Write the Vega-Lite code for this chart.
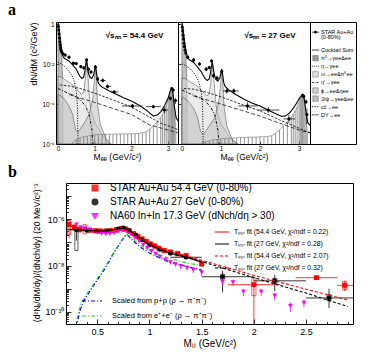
{
"$schema": "https://vega.github.io/schema/vega-lite/v6.json",
"autosize": {"type": "pad"},
"padding": {"left": 7, "top": 1, "right": 0, "bottom": 0},
"background": "white",
"bounds": "flush",
"spacing": 161,
"resolve": {"scale": {"x": "independent", "y": "independent", "color": "independent", "fill": "independent", "strokeDash": "independent", "strokeWidth": "independent", "shape": "independent"}},
"config": {
  "font": "Liberation Sans",
  "view": {"stroke": "black", "strokeWidth": 1},
  "axis": {"grid": false, "domain": false, "tickColor": "black", "labelColor": "black", "titleColor": "black", "titleFontWeight": "normal", "labelFont": "Liberation Sans", "titleFont": "Liberation Sans", "tickWidth": 0.8, "labelOverlap": false, "labelFlush": false},
  "title": {"font": "Liberation Serif", "fontWeight": "bold", "fontSize": 16, "anchor": "start", "frame": "group", "offset": 3, "color": "black"},
  "legend": {"labelFont": "Liberation Sans", "labelColor": "black"}
},
"datasets": {
  "a_data": [
    {"p":"54","m":0.01,"v":0.75,"lo":0.6,"hi":0.9},
    {"p":"54","m":0.02,"v":0.5,"lo":0.42,"hi":0.6},
    {"p":"54","m":0.03,"v":0.32,"lo":0.27,"hi":0.38},
    {"p":"54","m":0.04,"v":0.2,"lo":0.17,"hi":0.24},
    {"p":"54","m":0.05,"v":0.13,"lo":0.11,"hi":0.155},
    {"p":"54","m":0.06,"v":0.09,"lo":0.076,"hi":0.105},
    {"p":"54","m":0.07,"v":0.065,"lo":0.055,"hi":0.076},
    {"p":"54","m":0.08,"v":0.05,"lo":0.043,"hi":0.058},
    {"p":"54","m":0.1,"v":0.04,"lo":0.034,"hi":0.046},
    {"p":"54","m":0.14,"v":0.032,"lo":0.027,"hi":0.037},
    {"p":"54","m":0.2,"v":0.028,"lo":0.024,"hi":0.033},
    {"p":"54","m":0.3,"v":0.022,"lo":0.018,"hi":0.026},
    {"p":"54","m":0.42,"v":0.011,"lo":0.009,"hi":0.013},
    {"p":"54","m":0.5,"v":0.0105,"lo":0.0088,"hi":0.0125},
    {"p":"54","m":0.62,"v":0.0075,"lo":0.006,"hi":0.009},
    {"p":"54","m":0.7,"v":0.0065,"lo":0.0052,"hi":0.008},
    {"p":"54","m":0.78,"v":0.016,"lo":0.013,"hi":0.019},
    {"p":"54","m":0.83,"v":0.0055,"lo":0.0044,"hi":0.0067},
    {"p":"54","m":0.9,"v":0.004,"lo":0.0032,"hi":0.005},
    {"p":"54","m":1.02,"v":0.007,"lo":0.0058,"hi":0.0085},
    {"p":"54","m":1.08,"v":0.0018,"lo":0.0014,"hi":0.0023},
    {"p":"54","m":1.22,"v":0.0015,"lo":0.0012,"hi":0.0019,"x1":1.15,"x2":1.3},
    {"p":"54","m":1.35,"v":0.00076,"lo":0.0006,"hi":0.00095,"x1":1.3,"x2":1.45},
    {"p":"54","m":1.53,"v":0.0004,"lo":0.00032,"hi":0.0005,"x1":1.45,"x2":1.65},
    {"p":"54","m":2.03,"v":0.00008,"lo":0.00006,"hi":0.0001,"x1":1.75,"x2":2.3},
    {"p":"54","m":2.6,"v":0.000074,"lo":0.00006,"hi":0.00009,"x1":2.4,"x2":2.8},
    {"p":"54","m":2.9,"v":0.00005,"lo":0.000035,"hi":0.00007,"x1":2.8,"x2":3.0},
    {"p":"54","m":3.06,"v":0.00019,"lo":0.00015,"hi":0.00024},
    {"p":"54","m":3.1,"v":0.00059,"lo":0.0005,"hi":0.0007},
    {"p":"54","m":3.14,"v":0.0005,"lo":0.0004,"hi":0.0006},
    {"p":"54","m":3.2,"v":0.00015,"lo":0.0001,"hi":0.0002},
    {"p":"27","m":0.01,"v":0.7,"lo":0.55,"hi":0.85},
    {"p":"27","m":0.02,"v":0.45,"lo":0.37,"hi":0.54},
    {"p":"27","m":0.03,"v":0.28,"lo":0.23,"hi":0.34},
    {"p":"27","m":0.04,"v":0.18,"lo":0.15,"hi":0.22},
    {"p":"27","m":0.05,"v":0.11,"lo":0.09,"hi":0.13},
    {"p":"27","m":0.06,"v":0.075,"lo":0.062,"hi":0.09},
    {"p":"27","m":0.08,"v":0.05,"lo":0.041,"hi":0.06},
    {"p":"27","m":0.1,"v":0.035,"lo":0.029,"hi":0.042},
    {"p":"27","m":0.15,"v":0.022,"lo":0.018,"hi":0.027},
    {"p":"27","m":0.3,"v":0.016,"lo":0.013,"hi":0.02},
    {"p":"27","m":0.45,"v":0.01,"lo":0.008,"hi":0.0125},
    {"p":"27","m":0.62,"v":0.0055,"lo":0.0043,"hi":0.007},
    {"p":"27","m":0.7,"v":0.0066,"lo":0.0053,"hi":0.008},
    {"p":"27","m":0.76,"v":0.014,"lo":0.011,"hi":0.017},
    {"p":"27","m":0.81,"v":0.0026,"lo":0.002,"hi":0.0033},
    {"p":"27","m":0.9,"v":0.002,"lo":0.0015,"hi":0.0026},
    {"p":"27","m":1.02,"v":0.0042,"lo":0.0034,"hi":0.0052},
    {"p":"27","m":1.15,"v":0.00045,"lo":0.00033,"hi":0.0006,"x1":1.05,"x2":1.25},
    {"p":"27","m":1.33,"v":0.00045,"lo":0.00033,"hi":0.0006,"x1":1.25,"x2":1.45},
    {"p":"27","m":1.68,"v":0.00008,"lo":0.00005,"hi":0.00012,"x1":1.45,"x2":1.95},
    {"p":"27","m":2.21,"v":0.00005,"lo":0.000035,"hi":0.00007,"x1":1.95,"x2":2.5},
    {"p":"27","m":2.74,"v":0.000018,"lo":0.000011,"hi":0.000028,"x1":2.6,"x2":2.9},
    {"p":"27","m":3.09,"v":0.00027,"lo":0.00021,"hi":0.00034},
    {"p":"27","m":3.12,"v":0.00024,"lo":0.00019,"hi":0.0003},
    {"p":"27","m":3.18,"v":0.00013,"lo":0.0001,"hi":0.00017},
    {"p":"27","m":3.2,"v":0.00003,"lo":0.00001,"hi":0.00006}
  ],
  "a_lines": [
    {"p":"54","c":"sum","m":0,"v":1.25},{"p":"54","c":"sum","m":0.02,"v":0.8},{"p":"54","c":"sum","m":0.04,"v":0.4},{"p":"54","c":"sum","m":0.06,"v":0.18},{"p":"54","c":"sum","m":0.08,"v":0.1},{"p":"54","c":"sum","m":0.1,"v":0.055},{"p":"54","c":"sum","m":0.12,"v":0.035},{"p":"54","c":"sum","m":0.135,"v":0.025},{"p":"54","c":"sum","m":0.16,"v":0.02},{"p":"54","c":"sum","m":0.2,"v":0.018},{"p":"54","c":"sum","m":0.3,"v":0.014},{"p":"54","c":"sum","m":0.4,"v":0.009},{"p":"54","c":"sum","m":0.5,"v":0.0055},{"p":"54","c":"sum","m":0.55,"v":0.0035},{"p":"54","c":"sum","m":0.6,"v":0.0024},{"p":"54","c":"sum","m":0.65,"v":0.0019},{"p":"54","c":"sum","m":0.7,"v":0.0022},{"p":"54","c":"sum","m":0.73,"v":0.004},{"p":"54","c":"sum","m":0.76,"v":0.011},{"p":"54","c":"sum","m":0.78,"v":0.015},{"p":"54","c":"sum","m":0.8,"v":0.009},{"p":"54","c":"sum","m":0.83,"v":0.0035},{"p":"54","c":"sum","m":0.87,"v":0.0022},{"p":"54","c":"sum","m":0.92,"v":0.0019},{"p":"54","c":"sum","m":0.97,"v":0.0028},{"p":"54","c":"sum","m":1.0,"v":0.0055},{"p":"54","c":"sum","m":1.02,"v":0.0085},{"p":"54","c":"sum","m":1.04,"v":0.005},{"p":"54","c":"sum","m":1.07,"v":0.0018},{"p":"54","c":"sum","m":1.1,"v":0.0011},{"p":"54","c":"sum","m":1.2,"v":0.0007},{"p":"54","c":"sum","m":1.4,"v":0.00045},{"p":"54","c":"sum","m":1.6,"v":0.0003},{"p":"54","c":"sum","m":1.8,"v":0.0002},{"p":"54","c":"sum","m":2.0,"v":0.00014},{"p":"54","c":"sum","m":2.2,"v":0.00009},{"p":"54","c":"sum","m":2.4,"v":0.00005},{"p":"54","c":"sum","m":2.6,"v":0.000025},{"p":"54","c":"sum","m":2.7,"v":0.000028},{"p":"54","c":"sum","m":2.8,"v":0.00004},{"p":"54","c":"sum","m":2.9,"v":0.00008},{"p":"54","c":"sum","m":3.0,"v":0.0002},{"p":"54","c":"sum","m":3.05,"v":0.0004},{"p":"54","c":"sum","m":3.1,"v":0.00062},{"p":"54","c":"sum","m":3.13,"v":0.0004},{"p":"54","c":"sum","m":3.17,"v":0.00008},{"p":"54","c":"sum","m":3.22,"v":0.00002},{"p":"54","c":"sum","m":3.3,"v":0.000012},
    {"p":"54","c":"eta","m":0,"v":0.012},{"p":"54","c":"eta","m":0.1,"v":0.01},{"p":"54","c":"eta","m":0.2,"v":0.007},{"p":"54","c":"eta","m":0.3,"v":0.0045},{"p":"54","c":"eta","m":0.4,"v":0.0022},{"p":"54","c":"eta","m":0.45,"v":0.0012},{"p":"54","c":"eta","m":0.5,"v":0.0004},{"p":"54","c":"eta","m":0.53,"v":0.00008},{"p":"54","c":"eta","m":0.545,"v":0.000001},
    {"p":"54","c":"etap","m":0,"v":0.0006},{"p":"54","c":"etap","m":0.2,"v":0.0004},{"p":"54","c":"etap","m":0.4,"v":0.00028},{"p":"54","c":"etap","m":0.6,"v":0.00017},{"p":"54","c":"etap","m":0.75,"v":0.00008},{"p":"54","c":"etap","m":0.85,"v":0.00003},{"p":"54","c":"etap","m":0.92,"v":0.000006},{"p":"54","c":"etap","m":0.955,"v":0.000001},
    {"p":"54","c":"cc","m":0.05,"v":0.0009},{"p":"54","c":"cc","m":0.3,"v":0.0008},{"p":"54","c":"cc","m":0.6,"v":0.0006},{"p":"54","c":"cc","m":1.0,"v":0.00035},{"p":"54","c":"cc","m":1.5,"v":0.00016},{"p":"54","c":"cc","m":2.0,"v":0.00007},{"p":"54","c":"cc","m":2.5,"v":0.000022},{"p":"54","c":"cc","m":2.8,"v":0.000011},{"p":"54","c":"cc","m":3.1,"v":0.000007},{"p":"54","c":"cc","m":3.3,"v":0.000005},
    {"p":"54","c":"dy","m":0.3,"v":0.0003},{"p":"54","c":"dy","m":0.6,"v":0.0002},{"p":"54","c":"dy","m":1.0,"v":0.00012},{"p":"54","c":"dy","m":1.5,"v":0.00006},{"p":"54","c":"dy","m":2.0,"v":0.00003},{"p":"54","c":"dy","m":2.5,"v":0.000009},{"p":"54","c":"dy","m":3.0,"v":0.000005},{"p":"54","c":"dy","m":3.3,"v":0.0000035},
    {"p":"27","c":"sum","m":0,"v":1.2},{"p":"27","c":"sum","m":0.02,"v":0.75},{"p":"27","c":"sum","m":0.04,"v":0.37},{"p":"27","c":"sum","m":0.06,"v":0.17},{"p":"27","c":"sum","m":0.08,"v":0.09},{"p":"27","c":"sum","m":0.1,"v":0.05},{"p":"27","c":"sum","m":0.12,"v":0.032},{"p":"27","c":"sum","m":0.135,"v":0.022},{"p":"27","c":"sum","m":0.16,"v":0.018},{"p":"27","c":"sum","m":0.2,"v":0.016},{"p":"27","c":"sum","m":0.3,"v":0.012},{"p":"27","c":"sum","m":0.4,"v":0.007},{"p":"27","c":"sum","m":0.5,"v":0.004},{"p":"27","c":"sum","m":0.55,"v":0.0026},{"p":"27","c":"sum","m":0.6,"v":0.0018},{"p":"27","c":"sum","m":0.65,"v":0.0015},{"p":"27","c":"sum","m":0.7,"v":0.0018},{"p":"27","c":"sum","m":0.73,"v":0.0035},{"p":"27","c":"sum","m":0.76,"v":0.009},{"p":"27","c":"sum","m":0.78,"v":0.012},{"p":"27","c":"sum","m":0.8,"v":0.007},{"p":"27","c":"sum","m":0.83,"v":0.0028},{"p":"27","c":"sum","m":0.87,"v":0.0017},{"p":"27","c":"sum","m":0.92,"v":0.0014},{"p":"27","c":"sum","m":0.97,"v":0.002},{"p":"27","c":"sum","m":1.0,"v":0.0035},{"p":"27","c":"sum","m":1.02,"v":0.0055},{"p":"27","c":"sum","m":1.04,"v":0.0033},{"p":"27","c":"sum","m":1.07,"v":0.0012},{"p":"27","c":"sum","m":1.1,"v":0.0008},{"p":"27","c":"sum","m":1.2,"v":0.0005},{"p":"27","c":"sum","m":1.4,"v":0.00028},{"p":"27","c":"sum","m":1.6,"v":0.00017},{"p":"27","c":"sum","m":1.8,"v":0.00011},{"p":"27","c":"sum","m":2.0,"v":0.00008},{"p":"27","c":"sum","m":2.2,"v":0.00005},{"p":"27","c":"sum","m":2.4,"v":0.000033},{"p":"27","c":"sum","m":2.55,"v":0.000024},{"p":"27","c":"sum","m":2.65,"v":0.000025},{"p":"27","c":"sum","m":2.75,"v":0.000035},{"p":"27","c":"sum","m":2.85,"v":0.00006},{"p":"27","c":"sum","m":2.95,"v":0.00012},{"p":"27","c":"sum","m":3.0,"v":0.00018},{"p":"27","c":"sum","m":3.05,"v":0.00025},{"p":"27","c":"sum","m":3.1,"v":0.00028},{"p":"27","c":"sum","m":3.13,"v":0.0002},{"p":"27","c":"sum","m":3.17,"v":0.00005},{"p":"27","c":"sum","m":3.22,"v":0.000012},{"p":"27","c":"sum","m":3.3,"v":0.000008},
    {"p":"27","c":"eta","m":0,"v":0.01},{"p":"27","c":"eta","m":0.1,"v":0.0085},{"p":"27","c":"eta","m":0.2,"v":0.006},{"p":"27","c":"eta","m":0.3,"v":0.0038},{"p":"27","c":"eta","m":0.4,"v":0.0018},{"p":"27","c":"eta","m":0.45,"v":0.001},{"p":"27","c":"eta","m":0.5,"v":0.00033},{"p":"27","c":"eta","m":0.53,"v":0.00007},{"p":"27","c":"eta","m":0.545,"v":0.000001},
    {"p":"27","c":"etap","m":0,"v":0.0005},{"p":"27","c":"etap","m":0.2,"v":0.00033},{"p":"27","c":"etap","m":0.4,"v":0.00023},{"p":"27","c":"etap","m":0.6,"v":0.00014},{"p":"27","c":"etap","m":0.75,"v":0.000065},{"p":"27","c":"etap","m":0.85,"v":0.000025},{"p":"27","c":"etap","m":0.92,"v":0.000005},{"p":"27","c":"etap","m":0.955,"v":0.000001},
    {"p":"27","c":"cc","m":0.05,"v":0.0006},{"p":"27","c":"cc","m":0.3,"v":0.00055},{"p":"27","c":"cc","m":0.6,"v":0.0004},{"p":"27","c":"cc","m":1.0,"v":0.00023},{"p":"27","c":"cc","m":1.5,"v":0.0001},{"p":"27","c":"cc","m":2.0,"v":0.000045},{"p":"27","c":"cc","m":2.5,"v":0.000016},{"p":"27","c":"cc","m":2.8,"v":0.000009},{"p":"27","c":"cc","m":3.1,"v":0.000005},{"p":"27","c":"cc","m":3.3,"v":0.0000035},
    {"p":"27","c":"dy","m":0.3,"v":0.00025},{"p":"27","c":"dy","m":0.6,"v":0.00017},{"p":"27","c":"dy","m":1.0,"v":0.0001},{"p":"27","c":"dy","m":1.5,"v":0.00005},{"p":"27","c":"dy","m":2.0,"v":0.000025},{"p":"27","c":"dy","m":2.5,"v":0.000011},{"p":"27","c":"dy","m":3.0,"v":0.000005},{"p":"27","c":"dy","m":3.3,"v":0.0000035}
  ],
  "a_areas": [
    {"p":"54","c":"pi0","m":0,"v":1.0},{"p":"54","c":"pi0","m":0.02,"v":0.6},{"p":"54","c":"pi0","m":0.04,"v":0.3},{"p":"54","c":"pi0","m":0.06,"v":0.13},{"p":"54","c":"pi0","m":0.08,"v":0.06},{"p":"54","c":"pi0","m":0.1,"v":0.025},{"p":"54","c":"pi0","m":0.115,"v":0.008},{"p":"54","c":"pi0","m":0.125,"v":0.002},{"p":"54","c":"pi0","m":0.132,"v":0.0002},{"p":"54","c":"pi0","m":0.135,"v":0.000001},
    {"p":"54","c":"omega","m":0,"v":0.0025},{"p":"54","c":"omega","m":0.1,"v":0.0022},{"p":"54","c":"omega","m":0.2,"v":0.0016},{"p":"54","c":"omega","m":0.3,"v":0.0012},{"p":"54","c":"omega","m":0.4,"v":0.0009},{"p":"54","c":"omega","m":0.5,"v":0.0006},{"p":"54","c":"omega","m":0.58,"v":0.0004},{"p":"54","c":"omega","m":0.64,"v":0.0003},{"p":"54","c":"omega","m":0.7,"v":0.0004},{"p":"54","c":"omega","m":0.74,"v":0.0015},{"p":"54","c":"omega","m":0.78,"v":0.012},{"p":"54","c":"omega","m":0.82,"v":0.002},{"p":"54","c":"omega","m":0.86,"v":0.0002},{"p":"54","c":"omega","m":0.9,"v":0.00005},{"p":"54","c":"omega","m":1.0,"v":0.000012},{"p":"54","c":"omega","m":1.2,"v":0.000003},{"p":"54","c":"omega","m":1.4,"v":0.000001},
    {"p":"54","c":"phi","m":0,"v":0.0003},{"p":"54","c":"phi","m":0.1,"v":0.00025},{"p":"54","c":"phi","m":0.2,"v":0.00015},{"p":"54","c":"phi","m":0.3,"v":0.00008},{"p":"54","c":"phi","m":0.4,"v":0.00003},{"p":"54","c":"phi","m":0.48,"v":0.000005},{"p":"54","c":"phi","m":0.55,"v":0.000004},{"p":"54","c":"phi","m":0.7,"v":0.00001},{"p":"54","c":"phi","m":0.85,"v":0.00003},{"p":"54","c":"phi","m":0.95,"v":0.0002},{"p":"54","c":"phi","m":0.99,"v":0.0015},{"p":"54","c":"phi","m":1.02,"v":0.0065},{"p":"54","c":"phi","m":1.05,"v":0.0015},{"p":"54","c":"phi","m":1.08,"v":0.0001},{"p":"54","c":"phi","m":1.15,"v":0.00001},{"p":"54","c":"phi","m":1.3,"v":0.000002},{"p":"54","c":"phi","m":1.45,"v":0.000001},
    {"p":"27","c":"pi0","m":0,"v":0.95},{"p":"27","c":"pi0","m":0.02,"v":0.57},{"p":"27","c":"pi0","m":0.04,"v":0.28},{"p":"27","c":"pi0","m":0.06,"v":0.12},{"p":"27","c":"pi0","m":0.08,"v":0.055},{"p":"27","c":"pi0","m":0.1,"v":0.023},{"p":"27","c":"pi0","m":0.115,"v":0.0075},{"p":"27","c":"pi0","m":0.125,"v":0.0019},{"p":"27","c":"pi0","m":0.132,"v":0.0002},{"p":"27","c":"pi0","m":0.135,"v":0.000001},
    {"p":"27","c":"omega","m":0,"v":0.002},{"p":"27","c":"omega","m":0.1,"v":0.0018},{"p":"27","c":"omega","m":0.2,"v":0.0013},{"p":"27","c":"omega","m":0.3,"v":0.001},{"p":"27","c":"omega","m":0.4,"v":0.00075},{"p":"27","c":"omega","m":0.5,"v":0.0005},{"p":"27","c":"omega","m":0.58,"v":0.00033},{"p":"27","c":"omega","m":0.64,"v":0.00025},{"p":"27","c":"omega","m":0.7,"v":0.00033},{"p":"27","c":"omega","m":0.74,"v":0.0012},{"p":"27","c":"omega","m":0.78,"v":0.01},{"p":"27","c":"omega","m":0.82,"v":0.0016},{"p":"27","c":"omega","m":0.86,"v":0.00016},{"p":"27","c":"omega","m":0.9,"v":0.00004},{"p":"27","c":"omega","m":1.0,"v":0.00001},{"p":"27","c":"omega","m":1.2,"v":0.0000025},{"p":"27","c":"omega","m":1.4,"v":0.000001},
    {"p":"27","c":"phi","m":0,"v":0.00022},{"p":"27","c":"phi","m":0.1,"v":0.00018},{"p":"27","c":"phi","m":0.2,"v":0.00011},{"p":"27","c":"phi","m":0.3,"v":0.00006},{"p":"27","c":"phi","m":0.4,"v":0.000022},{"p":"27","c":"phi","m":0.48,"v":0.000004},{"p":"27","c":"phi","m":0.55,"v":0.000003},{"p":"27","c":"phi","m":0.7,"v":0.000008},{"p":"27","c":"phi","m":0.85,"v":0.000022},{"p":"27","c":"phi","m":0.95,"v":0.00015},{"p":"27","c":"phi","m":0.99,"v":0.001},{"p":"27","c":"phi","m":1.02,"v":0.0045},{"p":"27","c":"phi","m":1.05,"v":0.001},{"p":"27","c":"phi","m":1.08,"v":0.00008},{"p":"27","c":"phi","m":1.15,"v":0.000008},{"p":"27","c":"phi","m":1.3,"v":0.0000015},{"p":"27","c":"phi","m":1.45,"v":0.000001}
  ],
  "a_jpsi": [
    {"p":"54","m":0.4,"v":0.0000012},{"p":"54","m":0.5,"v":0.0000016},{"p":"54","m":0.6,"v":0.000002},{"p":"54","m":0.7,"v":0.0000023},{"p":"54","m":0.8,"v":0.0000025},{"p":"54","m":0.9,"v":0.0000027},{"p":"54","m":1.0,"v":0.0000029},{"p":"54","m":1.1,"v":0.000003},{"p":"54","m":1.2,"v":0.000003},{"p":"54","m":1.3,"v":0.0000031},{"p":"54","m":1.4,"v":0.0000031},{"p":"54","m":1.5,"v":0.0000031},{"p":"54","m":1.6,"v":0.0000032},{"p":"54","m":1.7,"v":0.0000032},{"p":"54","m":1.8,"v":0.0000032},{"p":"54","m":1.9,"v":0.0000032},{"p":"54","m":2.0,"v":0.0000033},{"p":"54","m":2.1,"v":0.0000033},{"p":"54","m":2.2,"v":0.0000034},{"p":"54","m":2.3,"v":0.0000036},{"p":"54","m":2.4,"v":0.000004},{"p":"54","m":2.5,"v":0.0000055},{"p":"54","m":2.6,"v":0.000008},{"p":"54","m":2.7,"v":0.000013},{"p":"54","m":2.8,"v":0.000022},{"p":"54","m":2.85,"v":0.00003},{"p":"54","m":2.9,"v":0.00005},{"p":"54","m":2.95,"v":0.00008},{"p":"54","m":3.0,"v":0.00016},{"p":"54","m":3.03,"v":0.00025},{"p":"54","m":3.06,"v":0.0004},{"p":"54","m":3.09,"v":0.0006},{"p":"54","m":3.12,"v":0.0005},{"p":"54","m":3.15,"v":0.00015},{"p":"54","m":3.18,"v":0.00003},{"p":"54","m":3.21,"v":0.000005},
    {"p":"27","m":0.5,"v":0.0000011},{"p":"27","m":0.6,"v":0.0000013},{"p":"27","m":0.7,"v":0.0000014},{"p":"27","m":0.8,"v":0.0000016},{"p":"27","m":0.9,"v":0.0000017},{"p":"27","m":1.0,"v":0.0000018},{"p":"27","m":1.1,"v":0.0000019},{"p":"27","m":1.2,"v":0.0000019},{"p":"27","m":1.3,"v":0.000002},{"p":"27","m":1.4,"v":0.000002},{"p":"27","m":1.5,"v":0.0000021},{"p":"27","m":1.6,"v":0.0000021},{"p":"27","m":1.7,"v":0.0000022},{"p":"27","m":1.8,"v":0.0000022},{"p":"27","m":1.9,"v":0.0000022},{"p":"27","m":2.0,"v":0.0000023},{"p":"27","m":2.1,"v":0.0000023},{"p":"27","m":2.2,"v":0.0000024},{"p":"27","m":2.3,"v":0.0000026},{"p":"27","m":2.4,"v":0.0000035},{"p":"27","m":2.5,"v":0.000005},{"p":"27","m":2.6,"v":0.000008},{"p":"27","m":2.7,"v":0.000013},{"p":"27","m":2.8,"v":0.000022},{"p":"27","m":2.85,"v":0.00003},{"p":"27","m":2.9,"v":0.000045},{"p":"27","m":2.95,"v":0.00007},{"p":"27","m":3.0,"v":0.00012},{"p":"27","m":3.03,"v":0.00018},{"p":"27","m":3.06,"v":0.00024},{"p":"27","m":3.09,"v":0.00028},{"p":"27","m":3.12,"v":0.00024},{"p":"27","m":3.15,"v":0.00009},{"p":"27","m":3.18,"v":0.00002},{"p":"27","m":3.21,"v":0.000004}
  ],
  "a_leg": [
    {"r":-0.2,"t":"STAR Au+Au","k":"star"},
    {"r":0.45,"t":"\u00a0\u00a0\u00a0(0-80%)","k":"none"},
    {"r":2,"t":"Cocktail Sum","k":"sum"},
    {"r":3,"t":"π⁰→γee&ee","k":"pi0"},
    {"r":4,"t":"η→γee","k":"eta"},
    {"r":5,"t":"ω→ee&π⁰ee","k":"omega"},
    {"r":6,"t":"η′→γee","k":"etap"},
    {"r":7,"t":"ϕ→ee&ηee","k":"phi"},
    {"r":8,"t":"J/ψ→γee&ee","k":"jpsi"},
    {"r":9,"t":"cc̄→ee","k":"cc"},
    {"r":10,"t":"DY→ee","k":"dy"}
  ],
  "b_data": [
    {"s":"STAR Au+Au 54.4 GeV (0-80%)","m":0.23,"v":6e-7,"lo":1.5e-7,"hi":1e-6,"b1":2.2e-7,"b2":9e-7,"bx1":0.215,"bx2":0.245},
    {"s":"STAR Au+Au 54.4 GeV (0-80%)","m":0.28,"v":4.5e-7,"lo":3.6e-7,"hi":5.6e-7,"b1":3.4e-7,"b2":5.8e-7,"bx1":0.265,"bx2":0.295},
    {"s":"STAR Au+Au 54.4 GeV (0-80%)","m":0.33,"v":3.6e-7,"lo":3e-7,"hi":4.3e-7,"b1":2.8e-7,"b2":4.6e-7,"bx1":0.315,"bx2":0.345},
    {"s":"STAR Au+Au 54.4 GeV (0-80%)","m":0.38,"v":3.8e-7,"lo":3.1e-7,"hi":4.6e-7,"b1":2.3e-7,"b2":6e-7,"bx1":0.365,"bx2":0.395},
    {"s":"STAR Au+Au 54.4 GeV (0-80%)","m":0.43,"v":3.4e-7,"lo":2.9e-7,"hi":4e-7,"b1":2.7e-7,"b2":4.3e-7,"bx1":0.415,"bx2":0.445},
    {"s":"STAR Au+Au 54.4 GeV (0-80%)","m":0.48,"v":3.2e-7,"lo":2.8e-7,"hi":3.7e-7,"b1":2.6e-7,"b2":4e-7,"bx1":0.465,"bx2":0.495},
    {"s":"STAR Au+Au 54.4 GeV (0-80%)","m":0.53,"v":3.1e-7,"lo":2.7e-7,"hi":3.5e-7,"b1":2.5e-7,"b2":3.9e-7,"bx1":0.515,"bx2":0.545},
    {"s":"STAR Au+Au 54.4 GeV (0-80%)","m":0.58,"v":3.1e-7,"lo":2.7e-7,"hi":3.5e-7,"b1":2.5e-7,"b2":3.9e-7,"bx1":0.565,"bx2":0.595},
    {"s":"STAR Au+Au 54.4 GeV (0-80%)","m":0.63,"v":3.2e-7,"lo":2.8e-7,"hi":3.6e-7,"b1":2.6e-7,"b2":4e-7,"bx1":0.615,"bx2":0.645},
    {"s":"STAR Au+Au 54.4 GeV (0-80%)","m":0.68,"v":3.5e-7,"lo":3.1e-7,"hi":3.9e-7,"b1":2.8e-7,"b2":4.4e-7,"bx1":0.665,"bx2":0.695},
    {"s":"STAR Au+Au 54.4 GeV (0-80%)","m":0.73,"v":4e-7,"lo":3.6e-7,"hi":4.4e-7,"b1":3.2e-7,"b2":5e-7,"bx1":0.715,"bx2":0.745},
    {"s":"STAR Au+Au 54.4 GeV (0-80%)","m":0.77,"v":3.8e-7,"lo":3.4e-7,"hi":4.2e-7,"b1":3e-7,"b2":4.8e-7,"bx1":0.755,"bx2":0.785},
    {"s":"STAR Au+Au 54.4 GeV (0-80%)","m":0.81,"v":3.1e-7,"lo":2.8e-7,"hi":3.4e-7,"b1":2.5e-7,"b2":3.9e-7,"bx1":0.795,"bx2":0.825},
    {"s":"STAR Au+Au 54.4 GeV (0-80%)","m":0.85,"v":2.4e-7,"lo":2.2e-7,"hi":2.6e-7,"b1":1.9e-7,"b2":3e-7,"bx1":0.835,"bx2":0.865},
    {"s":"STAR Au+Au 54.4 GeV (0-80%)","m":0.89,"v":1.8e-7,"lo":1.6e-7,"hi":2e-7,"b1":1.45e-7,"b2":2.25e-7,"bx1":0.875,"bx2":0.905},
    {"s":"STAR Au+Au 54.4 GeV (0-80%)","m":0.93,"v":1.4e-7,"lo":1.25e-7,"hi":1.55e-7,"b1":1.1e-7,"b2":1.75e-7,"bx1":0.915,"bx2":0.945},
    {"s":"STAR Au+Au 54.4 GeV (0-80%)","m":0.97,"v":1.1e-7,"lo":9.8e-8,"hi":1.22e-7,"b1":8.8e-8,"b2":1.38e-7,"bx1":0.955,"bx2":0.985},
    {"s":"STAR Au+Au 54.4 GeV (0-80%)","m":1.01,"v":8.5e-8,"lo":7.5e-8,"hi":9.5e-8,"b1":6.8e-8,"b2":1.06e-7,"bx1":0.995,"bx2":1.025},
    {"s":"STAR Au+Au 54.4 GeV (0-80%)","m":1.05,"v":7e-8,"lo":6.1e-8,"hi":7.9e-8,"b1":5.6e-8,"b2":8.8e-8,"bx1":1.035,"bx2":1.065},
    {"s":"STAR Au+Au 54.4 GeV (0-80%)","m":1.09,"v":5.6e-8,"lo":4.8e-8,"hi":6.4e-8,"b1":4.5e-8,"b2":7e-8,"bx1":1.075,"bx2":1.105},
    {"s":"STAR Au+Au 54.4 GeV (0-80%)","m":1.14,"v":4.5e-8,"lo":3.8e-8,"hi":5.2e-8,"b1":3.6e-8,"b2":5.6e-8,"bx1":1.12,"bx2":1.16},
    {"s":"STAR Au+Au 54.4 GeV (0-80%)","m":1.2,"v":3.8e-8,"lo":3.2e-8,"hi":4.4e-8,"b1":3e-8,"b2":4.8e-8,"bx1":1.18,"bx2":1.22},
    {"s":"STAR Au+Au 54.4 GeV (0-80%)","m":1.27,"v":3.3e-8,"lo":2.7e-8,"hi":3.9e-8,"b1":2.6e-8,"b2":4.1e-8,"bx1":1.25,"bx2":1.29},
    {"s":"STAR Au+Au 54.4 GeV (0-80%)","m":1.35,"v":2.7e-8,"lo":2.2e-8,"hi":3.2e-8,"b1":2.1e-8,"b2":3.4e-8,"bx1":1.33,"bx2":1.37},
    {"s":"STAR Au+Au 54.4 GeV (0-80%)","m":1.5,"v":1.2e-8,"lo":9e-9,"hi":1.6e-8,"b1":9.5e-9,"b2":1.5e-8,"bx1":1.48,"bx2":1.52},
    {"s":"STAR Au+Au 54.4 GeV (0-80%)","m":2.0,"v":1.5e-9,"lo":2e-11,"hi":2.8e-9,"x1":1.75,"x2":2.25,"b1":5e-10,"b2":3e-9,"bx1":1.98,"bx2":2.02},
    {"s":"STAR Au+Au 54.4 GeV (0-80%)","m":2.6,"v":3e-9,"lo":2.4e-9,"hi":3.7e-9,"x1":2.4,"x2":2.8,"b1":2.5e-9,"b2":3.6e-9,"bx1":2.58,"bx2":2.62},
    {"s":"STAR Au+Au 54.4 GeV (0-80%)","m":2.87,"v":1.4e-9,"lo":8e-10,"hi":2.2e-9,"x1":2.8,"x2":2.95,"b1":9e-10,"b2":2.1e-9,"bx1":2.85,"bx2":2.89},
    {"s":"STAR Au+Au 27 GeV (0-80%)","m":0.3,"v":3.5e-7,"lo":1.2e-7,"hi":5e-7,"b1":4.5e-8,"b2":4.5e-7,"bx1":0.285,"bx2":0.315},
    {"s":"STAR Au+Au 27 GeV (0-80%)","m":0.4,"v":3.3e-7,"lo":2.8e-7,"hi":3.8e-7},
    {"s":"STAR Au+Au 27 GeV (0-80%)","m":0.5,"v":3.1e-7,"lo":2.7e-7,"hi":3.5e-7},
    {"s":"STAR Au+Au 27 GeV (0-80%)","m":0.6,"v":3.2e-7,"lo":2.8e-7,"hi":3.6e-7},
    {"s":"STAR Au+Au 27 GeV (0-80%)","m":0.7,"v":3.9e-7,"lo":3.5e-7,"hi":4.3e-7},
    {"s":"STAR Au+Au 27 GeV (0-80%)","m":0.75,"v":4.3e-7,"lo":3.9e-7,"hi":4.7e-7},
    {"s":"STAR Au+Au 27 GeV (0-80%)","m":0.8,"v":3.4e-7,"lo":3.1e-7,"hi":3.7e-7},
    {"s":"STAR Au+Au 27 GeV (0-80%)","m":0.87,"v":2.1e-7,"lo":1.9e-7,"hi":2.3e-7},
    {"s":"STAR Au+Au 27 GeV (0-80%)","m":0.93,"v":1.3e-7,"lo":1.15e-7,"hi":1.45e-7},
    {"s":"STAR Au+Au 27 GeV (0-80%)","m":1.0,"v":8e-8,"lo":7e-8,"hi":9e-8},
    {"s":"STAR Au+Au 27 GeV (0-80%)","m":1.1,"v":5e-8,"lo":4.3e-8,"hi":5.7e-8},
    {"s":"STAR Au+Au 27 GeV (0-80%)","m":1.2,"v":3.4e-8,"lo":2.9e-8,"hi":3.9e-8},
    {"s":"STAR Au+Au 27 GeV (0-80%)","m":1.35,"v":2.3e-8,"lo":1.9e-8,"hi":2.7e-8,"x1":1.2,"x2":1.5},
    {"s":"STAR Au+Au 27 GeV (0-80%)","m":1.7,"v":3.3e-9,"lo":7e-10,"hi":6e-9,"x1":1.5,"x2":2.0,"b1":2.6e-9,"b2":4.2e-9,"bx1":1.68,"bx2":1.72},
    {"s":"STAR Au+Au 27 GeV (0-80%)","m":2.2,"v":2.2e-9,"lo":8e-10,"hi":4e-9,"x1":2.0,"x2":2.5,"b1":1.7e-9,"b2":2.8e-9,"bx1":2.18,"bx2":2.22},
    {"s":"STAR Au+Au 27 GeV (0-80%)","m":2.72,"v":4e-10,"lo":1.5e-10,"hi":1e-9,"x1":2.5,"x2":2.95,"b1":3e-10,"b2":5.5e-10,"bx1":2.7,"bx2":2.74},
    {"s":"NA60 In+In 17.3 GeV (dNch/dη > 30)","m":0.3,"v":6e-7,"lo":5e-7,"hi":7e-7},
    {"s":"NA60 In+In 17.3 GeV (dNch/dη > 30)","m":0.34,"v":4.5e-7,"lo":3.8e-7,"hi":5.2e-7},
    {"s":"NA60 In+In 17.3 GeV (dNch/dη > 30)","m":0.38,"v":4e-7,"lo":3.4e-7,"hi":4.6e-7},
    {"s":"NA60 In+In 17.3 GeV (dNch/dη > 30)","m":0.42,"v":3.4e-7,"lo":2.9e-7,"hi":3.9e-7},
    {"s":"NA60 In+In 17.3 GeV (dNch/dη > 30)","m":0.46,"v":3e-7,"lo":2.6e-7,"hi":3.5e-7},
    {"s":"NA60 In+In 17.3 GeV (dNch/dη > 30)","m":0.5,"v":2.7e-7,"lo":2.3e-7,"hi":3.1e-7},
    {"s":"NA60 In+In 17.3 GeV (dNch/dη > 30)","m":0.54,"v":2.4e-7,"lo":2.05e-7,"hi":2.75e-7},
    {"s":"NA60 In+In 17.3 GeV (dNch/dη > 30)","m":0.58,"v":2.3e-7,"lo":1.95e-7,"hi":2.65e-7},
    {"s":"NA60 In+In 17.3 GeV (dNch/dη > 30)","m":0.62,"v":2.4e-7,"lo":2.05e-7,"hi":2.75e-7},
    {"s":"NA60 In+In 17.3 GeV (dNch/dη > 30)","m":0.66,"v":2.6e-7,"lo":2.2e-7,"hi":3e-7},
    {"s":"NA60 In+In 17.3 GeV (dNch/dη > 30)","m":0.7,"v":3e-7,"lo":2.6e-7,"hi":3.4e-7},
    {"s":"NA60 In+In 17.3 GeV (dNch/dη > 30)","m":0.74,"v":3.3e-7,"lo":2.8e-7,"hi":3.8e-7},
    {"s":"NA60 In+In 17.3 GeV (dNch/dη > 30)","m":0.78,"v":3.1e-7,"lo":2.6e-7,"hi":3.6e-7},
    {"s":"NA60 In+In 17.3 GeV (dNch/dη > 30)","m":0.82,"v":2.3e-7,"lo":1.95e-7,"hi":2.65e-7},
    {"s":"NA60 In+In 17.3 GeV (dNch/dη > 30)","m":0.86,"v":1.6e-7,"lo":1.35e-7,"hi":1.85e-7},
    {"s":"NA60 In+In 17.3 GeV (dNch/dη > 30)","m":0.9,"v":1.15e-7,"lo":9.8e-8,"hi":1.32e-7},
    {"s":"NA60 In+In 17.3 GeV (dNch/dη > 30)","m":0.94,"v":8e-8,"lo":6.8e-8,"hi":9.2e-8},
    {"s":"NA60 In+In 17.3 GeV (dNch/dη > 30)","m":0.98,"v":5.8e-8,"lo":4.9e-8,"hi":6.7e-8},
    {"s":"NA60 In+In 17.3 GeV (dNch/dη > 30)","m":1.02,"v":4.3e-8,"lo":3.6e-8,"hi":5e-8},
    {"s":"NA60 In+In 17.3 GeV (dNch/dη > 30)","m":1.06,"v":3.2e-8,"lo":2.7e-8,"hi":3.7e-8},
    {"s":"NA60 In+In 17.3 GeV (dNch/dη > 30)","m":1.1,"v":2.4e-8,"lo":2e-8,"hi":2.8e-8},
    {"s":"NA60 In+In 17.3 GeV (dNch/dη > 30)","m":1.15,"v":1.8e-8,"lo":1.5e-8,"hi":2.1e-8},
    {"s":"NA60 In+In 17.3 GeV (dNch/dη > 30)","m":1.2,"v":1.4e-8,"lo":1.1e-8,"hi":1.7e-8},
    {"s":"NA60 In+In 17.3 GeV (dNch/dη > 30)","m":1.25,"v":1.15e-8,"lo":9e-9,"hi":1.4e-8},
    {"s":"NA60 In+In 17.3 GeV (dNch/dη > 30)","m":1.3,"v":9.5e-9,"lo":7e-9,"hi":1.2e-8},
    {"s":"NA60 In+In 17.3 GeV (dNch/dη > 30)","m":1.36,"v":8e-9,"lo":6e-9,"hi":1e-8},
    {"s":"NA60 In+In 17.3 GeV (dNch/dη > 30)","m":1.42,"v":6.5e-9,"lo":4.8e-9,"hi":8.2e-9},
    {"s":"NA60 In+In 17.3 GeV (dNch/dη > 30)","m":1.5,"v":5e-9,"lo":3.6e-9,"hi":6.4e-9},
    {"s":"NA60 In+In 17.3 GeV (dNch/dη > 30)","m":1.7,"v":2e-9,"lo":1.4e-9,"hi":2.6e-9},
    {"s":"NA60 In+In 17.3 GeV (dNch/dη > 30)","m":1.8,"v":1.9e-9,"lo":1.3e-9,"hi":2.5e-9},
    {"s":"NA60 In+In 17.3 GeV (dNch/dη > 30)","m":1.9,"v":7.4e-10,"lo":4.8e-10,"hi":1e-9},
    {"s":"NA60 In+In 17.3 GeV (dNch/dη > 30)","m":2.07,"v":7.4e-10,"lo":4.8e-10,"hi":1e-9},
    {"s":"NA60 In+In 17.3 GeV (dNch/dη > 30)","m":2.2,"v":5e-10,"lo":3.2e-10,"hi":6.8e-10},
    {"s":"NA60 In+In 17.3 GeV (dNch/dη > 30)","m":2.35,"v":1.8e-10,"lo":1e-10,"hi":2.6e-10},
    {"s":"NA60 In+In 17.3 GeV (dNch/dη > 30)","m":2.48,"v":2.5e-10,"lo":1.6e-10,"hi":3.4e-10}
  ],
  "b_fits": [
    {"f":"Tₗₘᵣ fit (54.4 GeV, χ²/ndf = 0.22)","m":0.23,"v":5.5e-7},{"f":"Tₗₘᵣ fit (54.4 GeV, χ²/ndf = 0.22)","m":0.3,"v":4e-7},{"f":"Tₗₘᵣ fit (54.4 GeV, χ²/ndf = 0.22)","m":0.4,"v":3.5e-7},{"f":"Tₗₘᵣ fit (54.4 GeV, χ²/ndf = 0.22)","m":0.5,"v":3.2e-7},{"f":"Tₗₘᵣ fit (54.4 GeV, χ²/ndf = 0.22)","m":0.6,"v":3.1e-7},{"f":"Tₗₘᵣ fit (54.4 GeV, χ²/ndf = 0.22)","m":0.7,"v":3.7e-7},{"f":"Tₗₘᵣ fit (54.4 GeV, χ²/ndf = 0.22)","m":0.76,"v":3.9e-7},{"f":"Tₗₘᵣ fit (54.4 GeV, χ²/ndf = 0.22)","m":0.8,"v":3.2e-7},{"f":"Tₗₘᵣ fit (54.4 GeV, χ²/ndf = 0.22)","m":0.85,"v":2.4e-7},{"f":"Tₗₘᵣ fit (54.4 GeV, χ²/ndf = 0.22)","m":0.9,"v":1.75e-7},{"f":"Tₗₘᵣ fit (54.4 GeV, χ²/ndf = 0.22)","m":0.95,"v":1.25e-7},{"f":"Tₗₘᵣ fit (54.4 GeV, χ²/ndf = 0.22)","m":1.0,"v":9e-8},{"f":"Tₗₘᵣ fit (54.4 GeV, χ²/ndf = 0.22)","m":1.05,"v":7e-8},{"f":"Tₗₘᵣ fit (54.4 GeV, χ²/ndf = 0.22)","m":1.1,"v":5.5e-8},{"f":"Tₗₘᵣ fit (54.4 GeV, χ²/ndf = 0.22)","m":1.2,"v":3.9e-8},{"f":"Tₗₘᵣ fit (54.4 GeV, χ²/ndf = 0.22)","m":1.3,"v":3e-8},{"f":"Tₗₘᵣ fit (54.4 GeV, χ²/ndf = 0.22)","m":1.4,"v":2.2e-8},{"f":"Tₗₘᵣ fit (54.4 GeV, χ²/ndf = 0.22)","m":1.5,"v":1.4e-8},
    {"f":"Tₗₘᵣ fit (27 GeV,  χ²/ndf = 0.28)","m":0.23,"v":3.6e-7},{"f":"Tₗₘᵣ fit (27 GeV,  χ²/ndf = 0.28)","m":0.3,"v":3.5e-7},{"f":"Tₗₘᵣ fit (27 GeV,  χ²/ndf = 0.28)","m":0.4,"v":3.3e-7},{"f":"Tₗₘᵣ fit (27 GeV,  χ²/ndf = 0.28)","m":0.5,"v":3.1e-7},{"f":"Tₗₘᵣ fit (27 GeV,  χ²/ndf = 0.28)","m":0.6,"v":3.2e-7},{"f":"Tₗₘᵣ fit (27 GeV,  χ²/ndf = 0.28)","m":0.7,"v":3.9e-7},{"f":"Tₗₘᵣ fit (27 GeV,  χ²/ndf = 0.28)","m":0.75,"v":4.2e-7},{"f":"Tₗₘᵣ fit (27 GeV,  χ²/ndf = 0.28)","m":0.8,"v":3.4e-7},{"f":"Tₗₘᵣ fit (27 GeV,  χ²/ndf = 0.28)","m":0.87,"v":2.1e-7},{"f":"Tₗₘᵣ fit (27 GeV,  χ²/ndf = 0.28)","m":0.93,"v":1.3e-7},{"f":"Tₗₘᵣ fit (27 GeV,  χ²/ndf = 0.28)","m":1.0,"v":8e-8},{"f":"Tₗₘᵣ fit (27 GeV,  χ²/ndf = 0.28)","m":1.1,"v":5e-8},{"f":"Tₗₘᵣ fit (27 GeV,  χ²/ndf = 0.28)","m":1.2,"v":3.4e-8},{"f":"Tₗₘᵣ fit (27 GeV,  χ²/ndf = 0.28)","m":1.35,"v":2.3e-8},{"f":"Tₗₘᵣ fit (27 GeV,  χ²/ndf = 0.28)","m":1.5,"v":1.4e-8},
    {"f":"Tᵢₘᵣ fit (54.4 GeV, χ²/ndf = 2.07)","m":1.2,"v":4e-8},{"f":"Tᵢₘᵣ fit (54.4 GeV, χ²/ndf = 2.07)","m":1.5,"v":1.7e-8},{"f":"Tᵢₘᵣ fit (54.4 GeV, χ²/ndf = 2.07)","m":2.0,"v":3.8e-9},{"f":"Tᵢₘᵣ fit (54.4 GeV, χ²/ndf = 2.07)","m":2.5,"v":9.5e-10},{"f":"Tᵢₘᵣ fit (54.4 GeV, χ²/ndf = 2.07)","m":2.9,"v":3.3e-10},
    {"f":"Tᵢₘᵣ fit (27 GeV,  χ²/ndf = 0.32)","m":1.2,"v":3.8e-8},{"f":"Tᵢₘᵣ fit (27 GeV,  χ²/ndf = 0.32)","m":1.5,"v":1.5e-8},{"f":"Tᵢₘᵣ fit (27 GeV,  χ²/ndf = 0.32)","m":2.0,"v":3e-9},{"f":"Tᵢₘᵣ fit (27 GeV,  χ²/ndf = 0.32)","m":2.5,"v":6.5e-10},{"f":"Tᵢₘᵣ fit (27 GeV,  χ²/ndf = 0.32)","m":2.9,"v":1.7e-10}
  ],
  "b_models": [
    {"md":"Scaled from p+p (ρ → π⁺π⁻)","m":0.3,"v":2e-11},{"md":"Scaled from p+p (ρ → π⁺π⁻)","m":0.31,"v":3.5e-11},{"md":"Scaled from p+p (ρ → π⁺π⁻)","m":0.33,"v":1e-10},{"md":"Scaled from p+p (ρ → π⁺π⁻)","m":0.36,"v":2.5e-10},{"md":"Scaled from p+p (ρ → π⁺π⁻)","m":0.4,"v":5e-10},{"md":"Scaled from p+p (ρ → π⁺π⁻)","m":0.45,"v":1.1e-9},{"md":"Scaled from p+p (ρ → π⁺π⁻)","m":0.5,"v":2.4e-9},{"md":"Scaled from p+p (ρ → π⁺π⁻)","m":0.55,"v":5e-9},{"md":"Scaled from p+p (ρ → π⁺π⁻)","m":0.6,"v":1.2e-8},{"md":"Scaled from p+p (ρ → π⁺π⁻)","m":0.65,"v":3e-8},{"md":"Scaled from p+p (ρ → π⁺π⁻)","m":0.7,"v":7e-8},{"md":"Scaled from p+p (ρ → π⁺π⁻)","m":0.74,"v":1.3e-7},{"md":"Scaled from p+p (ρ → π⁺π⁻)","m":0.77,"v":2e-7},{"md":"Scaled from p+p (ρ → π⁺π⁻)","m":0.79,"v":2.1e-7},{"md":"Scaled from p+p (ρ → π⁺π⁻)","m":0.82,"v":1.5e-7},{"md":"Scaled from p+p (ρ → π⁺π⁻)","m":0.86,"v":1e-7},{"md":"Scaled from p+p (ρ → π⁺π⁻)","m":0.9,"v":7e-8},{"md":"Scaled from p+p (ρ → π⁺π⁻)","m":0.95,"v":4.8e-8},{"md":"Scaled from p+p (ρ → π⁺π⁻)","m":1.0,"v":3.5e-8},{"md":"Scaled from p+p (ρ → π⁺π⁻)","m":1.1,"v":2.1e-8},{"md":"Scaled from p+p (ρ → π⁺π⁻)","m":1.2,"v":1.4e-8},{"md":"Scaled from p+p (ρ → π⁺π⁻)","m":1.3,"v":1.05e-8},{"md":"Scaled from p+p (ρ → π⁺π⁻)","m":1.4,"v":8.2e-9},{"md":"Scaled from p+p (ρ → π⁺π⁻)","m":1.5,"v":6.5e-9},
    {"md":"Scaled from e⁺+e⁻ (ρ → π⁺π⁻)","m":0.29,"v":2e-11},{"md":"Scaled from e⁺+e⁻ (ρ → π⁺π⁻)","m":0.3,"v":3.5e-11},{"md":"Scaled from e⁺+e⁻ (ρ → π⁺π⁻)","m":0.32,"v":1e-10},{"md":"Scaled from e⁺+e⁻ (ρ → π⁺π⁻)","m":0.35,"v":2.7e-10},{"md":"Scaled from e⁺+e⁻ (ρ → π⁺π⁻)","m":0.4,"v":6e-10},{"md":"Scaled from e⁺+e⁻ (ρ → π⁺π⁻)","m":0.45,"v":1.3e-9},{"md":"Scaled from e⁺+e⁻ (ρ → π⁺π⁻)","m":0.5,"v":2.8e-9},{"md":"Scaled from e⁺+e⁻ (ρ → π⁺π⁻)","m":0.55,"v":6e-9},{"md":"Scaled from e⁺+e⁻ (ρ → π⁺π⁻)","m":0.6,"v":1.4e-8},{"md":"Scaled from e⁺+e⁻ (ρ → π⁺π⁻)","m":0.65,"v":3.3e-8},{"md":"Scaled from e⁺+e⁻ (ρ → π⁺π⁻)","m":0.7,"v":7.5e-8},{"md":"Scaled from e⁺+e⁻ (ρ → π⁺π⁻)","m":0.74,"v":1.4e-7},{"md":"Scaled from e⁺+e⁻ (ρ → π⁺π⁻)","m":0.77,"v":2.1e-7},{"md":"Scaled from e⁺+e⁻ (ρ → π⁺π⁻)","m":0.79,"v":2.2e-7},{"md":"Scaled from e⁺+e⁻ (ρ → π⁺π⁻)","m":0.82,"v":1.7e-7},{"md":"Scaled from e⁺+e⁻ (ρ → π⁺π⁻)","m":0.86,"v":1.2e-7},{"md":"Scaled from e⁺+e⁻ (ρ → π⁺π⁻)","m":0.9,"v":8.5e-8},{"md":"Scaled from e⁺+e⁻ (ρ → π⁺π⁻)","m":0.95,"v":6e-8},{"md":"Scaled from e⁺+e⁻ (ρ → π⁺π⁻)","m":1.0,"v":4.5e-8},{"md":"Scaled from e⁺+e⁻ (ρ → π⁺π⁻)","m":1.1,"v":2.8e-8},{"md":"Scaled from e⁺+e⁻ (ρ → π⁺π⁻)","m":1.2,"v":2e-8},{"md":"Scaled from e⁺+e⁻ (ρ → π⁺π⁻)","m":1.3,"v":1.5e-8},{"md":"Scaled from e⁺+e⁻ (ρ → π⁺π⁻)","m":1.4,"v":1.2e-8},{"md":"Scaled from e⁺+e⁻ (ρ → π⁺π⁻)","m":1.5,"v":1e-8}
  ]
},
"vconcat": [
  {
    "hconcat": [
      {
        "width": 122, "height": 122,
        "title": {"text": "a", "dx": -48},
        "layer": [
          {"data": {"name": "a_areas"}, "transform": [{"filter": "datum.p == '54'"}],
           "mark": {"type": "area", "clip": true, "strokeWidth": 0.5, "stroke": "#444", "fillOpacity": 0.55},
           "encoding": {
             "x": {"field": "m", "type": "quantitative", "scale": {"domain": [-0.054, 3.27], "nice": false, "zero": false},
                   "axis": {"values": [0,0.5,1,1.5,2,2.5,3], "format": "~g", "labelOverlap": false, "tickSize": -3, "labelPadding": 4, "labelFontSize": 6.5, "title": "Mₑₑ (GeV/c²)", "titleFontSize": 8.5, "titlePadding": 1}},
             "y": {"field": "v", "type": "quantitative", "scale": {"type": "log", "domain": [0.000001, 1.26], "nice": false},
                   "axis": {"values": [0.000001,0.0001,0.01,1], "labelExpr": "datum.value > 0.1 ? '1' : datum.value > 0.001 ? '10⁻²' : datum.value > 0.00001 ? '10⁻⁴' : '10⁻⁶'", "labelOverlap": false, "tickSize": -3, "labelPadding": 5, "labelFontSize": 6.5, "title": "dN/dM (c²/GeV)", "titleFontSize": 9, "titleAnchor": "end", "titlePadding": 3}},
             "y2": {"datum": 0.000001},
             "fill": {"field": "c", "type": "nominal", "scale": {"domain": ["pi0","omega","phi"], "range": ["#8c8c8c","#d9d9d9","#bdbdbd"]}, "legend": null}
           }},
          {"data": {"name": "a_jpsi"}, "transform": [{"filter": "datum.p == '54'"}],
           "mark": {"type": "rule", "clip": true, "stroke": "#777", "strokeWidth": 0.8},
           "encoding": {"x": {"field": "m", "type": "quantitative"}, "y": {"field": "v", "type": "quantitative"}, "y2": {"datum": 0.000001}}},
          {"data": {"name": "a_jpsi"}, "transform": [{"filter": "datum.p == '54'"}],
           "mark": {"type": "line", "clip": true, "stroke": "#777", "strokeWidth": 0.6},
           "encoding": {"x": {"field": "m", "type": "quantitative"}, "y": {"field": "v", "type": "quantitative"}}},
          {"data": {"name": "a_lines"}, "transform": [{"filter": "datum.p == '54'"}],
           "mark": {"type": "line", "clip": true, "stroke": "black"},
           "encoding": {"x": {"field": "m", "type": "quantitative"}, "y": {"field": "v", "type": "quantitative"},
             "strokeDash": {"field": "c", "type": "nominal", "scale": {"domain": ["sum","eta","etap","cc","dy"], "range": [[1,0],[1,1.5],[3,1.5,1,1.5],[2.5,1.5],[4,2]]}, "legend": null},
             "strokeWidth": {"field": "c", "type": "nominal", "scale": {"domain": ["sum","eta","etap","cc","dy"], "range": [1.1,0.7,0.7,0.7,0.7]}, "legend": null}}},
          {"data": {"name": "a_data"}, "transform": [{"filter": "datum.p == '54'"}],
           "mark": {"type": "rule", "clip": true, "stroke": "black", "strokeWidth": 0.7},
           "encoding": {"x": {"field": "m", "type": "quantitative"}, "y": {"field": "lo", "type": "quantitative"}, "y2": {"field": "hi"}}},
          {"data": {"name": "a_data"}, "transform": [{"filter": "datum.p == '54' && isValid(datum.x1)"}],
           "mark": {"type": "rule", "clip": true, "stroke": "black", "strokeWidth": 0.7},
           "encoding": {"x": {"field": "x1", "type": "quantitative"}, "x2": {"field": "x2"}, "y": {"field": "v", "type": "quantitative"}}},
          {"data": {"name": "a_data"}, "transform": [{"filter": "datum.p == '54'"}],
           "mark": {"type": "circle", "clip": true, "color": "black", "size": 10, "opacity": 1},
           "encoding": {"x": {"field": "m", "type": "quantitative"}, "y": {"field": "v", "type": "quantitative"}}},
          {"data": {"values": [{}]},
           "mark": {"type": "text", "text": "√sₙₙ = 54.4 GeV", "fontWeight": "bold", "fontSize": 8, "align": "left", "baseline": "middle"},
           "encoding": {"x": {"datum": 1.3}, "y": {"datum": 0.25}}}
        ]
      },
      {
        "width": 132, "height": 122,
        "layer": [
          {"data": {"name": "a_areas"}, "transform": [{"filter": "datum.p == '27'"}],
           "mark": {"type": "area", "clip": true, "strokeWidth": 0.5, "stroke": "#444", "fillOpacity": 0.55},
           "encoding": {
             "x": {"field": "m", "type": "quantitative", "scale": {"domain": [-0.1, 3.28], "nice": false, "zero": false},
                   "axis": {"values": [0,0.5,1,1.5,2,2.5,3], "format": "~g", "labelOverlap": false, "tickSize": -3, "labelPadding": 4, "labelFontSize": 6.5, "title": "Mₑₑ (GeV/c²)", "titleFontSize": 8.5, "titlePadding": 1}},
             "y": {"field": "v", "type": "quantitative", "scale": {"type": "log", "domain": [0.000001, 1.26], "nice": false},
                   "axis": {"values": [0.000001,0.0001,0.01,1], "labels": false, "tickSize": -3, "title": null}},
             "y2": {"datum": 0.000001},
             "fill": {"field": "c", "type": "nominal", "scale": {"domain": ["pi0","omega","phi"], "range": ["#8c8c8c","#d9d9d9","#bdbdbd"]}, "legend": null}
           }},
          {"data": {"name": "a_jpsi"}, "transform": [{"filter": "datum.p == '27'"}],
           "mark": {"type": "rule", "clip": true, "stroke": "#777", "strokeWidth": 0.8},
           "encoding": {"x": {"field": "m", "type": "quantitative"}, "y": {"field": "v", "type": "quantitative"}, "y2": {"datum": 0.000001}}},
          {"data": {"name": "a_jpsi"}, "transform": [{"filter": "datum.p == '27'"}],
           "mark": {"type": "line", "clip": true, "stroke": "#777", "strokeWidth": 0.6},
           "encoding": {"x": {"field": "m", "type": "quantitative"}, "y": {"field": "v", "type": "quantitative"}}},
          {"data": {"name": "a_lines"}, "transform": [{"filter": "datum.p == '27'"}],
           "mark": {"type": "line", "clip": true, "stroke": "black"},
           "encoding": {"x": {"field": "m", "type": "quantitative"}, "y": {"field": "v", "type": "quantitative"},
             "strokeDash": {"field": "c", "type": "nominal", "scale": {"domain": ["sum","eta","etap","cc","dy"], "range": [[1,0],[1,1.5],[3,1.5,1,1.5],[2.5,1.5],[4,2]]}, "legend": null},
             "strokeWidth": {"field": "c", "type": "nominal", "scale": {"domain": ["sum","eta","etap","cc","dy"], "range": [1.1,0.7,0.7,0.7,0.7]}, "legend": null}}},
          {"data": {"name": "a_data"}, "transform": [{"filter": "datum.p == '27'"}],
           "mark": {"type": "rule", "clip": true, "stroke": "black", "strokeWidth": 0.7},
           "encoding": {"x": {"field": "m", "type": "quantitative"}, "y": {"field": "lo", "type": "quantitative"}, "y2": {"field": "hi"}}},
          {"data": {"name": "a_data"}, "transform": [{"filter": "datum.p == '27' && isValid(datum.x1)"}],
           "mark": {"type": "rule", "clip": true, "stroke": "black", "strokeWidth": 0.7},
           "encoding": {"x": {"field": "x1", "type": "quantitative"}, "x2": {"field": "x2"}, "y": {"field": "v", "type": "quantitative"}}},
          {"data": {"name": "a_data"}, "transform": [{"filter": "datum.p == '27'"}],
           "mark": {"type": "circle", "clip": true, "color": "black", "size": 10, "opacity": 1},
           "encoding": {"x": {"field": "m", "type": "quantitative"}, "y": {"field": "v", "type": "quantitative"}}},
          {"data": {"values": [{}]},
           "mark": {"type": "text", "text": "√sₙₙ = 27 GeV", "fontWeight": "bold", "fontSize": 8, "align": "left", "baseline": "middle"},
           "encoding": {"x": {"datum": 1.6}, "y": {"datum": 0.25}}}
        ]
      },
      {
        "width": 46, "height": 122,
        "data": {"name": "a_leg"},
        "layer": [
          {"mark": {"type": "text", "align": "left", "baseline": "middle", "fontSize": 5.5},
           "encoding": {"x": {"datum": 0.24, "scale": {"domain": [0, 1], "nice": false, "zero": false}, "axis": null},
                        "y": {"field": "r", "type": "quantitative", "scale": {"domain": [-1.457, 13.6], "reverse": true, "nice": false, "zero": false}, "axis": null},
                        "text": {"field": "t"}}},
          {"transform": [{"filter": "indexof(['star','sum','eta','etap','cc','dy'], datum.k) >= 0"}],
           "mark": {"type": "rule", "stroke": "black", "strokeWidth": 0.8},
           "encoding": {"x": {"datum": 0.04}, "x2": {"datum": 0.2}, "y": {"field": "r", "type": "quantitative"},
                        "strokeDash": {"field": "k", "type": "nominal", "scale": {"domain": ["star","sum","eta","etap","cc","dy"], "range": [[1,0],[1,0],[1,1],[2,1,0.6,1],[1.5,1],[2.5,1]]}, "legend": null}}},
          {"transform": [{"filter": "indexof(['pi0','omega','phi','jpsi'], datum.k) >= 0"}],
           "mark": {"type": "square", "size": 30, "opacity": 1, "stroke": "#666", "strokeWidth": 0.5},
           "encoding": {"x": {"datum": 0.12}, "y": {"field": "r", "type": "quantitative"},
                        "fill": {"field": "k", "type": "nominal", "scale": {"domain": ["pi0","omega","phi","jpsi"], "range": ["#9a9a9a","#e0e0e0","#cfcfcf","#bbbbbb"]}, "legend": null}}},
          {"transform": [{"filter": "datum.k == 'star'"}],
           "mark": {"type": "circle", "size": 8, "color": "black", "opacity": 1},
           "encoding": {"x": {"datum": 0.12}, "y": {"field": "r", "type": "quantitative"}}}
        ]
      }
    ],
    "spacing": 0,
    "bounds": "flush",
    "resolve": {"scale": {"x": "independent", "y": "independent", "color": "independent", "fill": "independent", "strokeDash": "independent", "strokeWidth": "independent", "shape": "independent"}}
  },
  {
    "hconcat": [
      {
        "width": 10, "height": 141,
        "view": {"stroke": null},
        "title": {"text": "b", "dx": -48},
        "data": {"values": [{}]},
        "mark": {"type": "text", "text": " "}
      },
      {
        "width": 287, "height": 141,
        "resolve": {"scale": {"color": "independent", "shape": "independent", "strokeDash": "independent"}, "axis": {"x": "independent", "y": "independent"}},
        "layer": [
          {"data": {"name": "b_models"},
           "mark": {"type": "line", "clip": true, "strokeWidth": 1.2},
           "encoding": {
             "x": {"field": "m", "type": "quantitative", "scale": {"domain": [0.2, 2.95], "nice": false, "zero": false},
                   "axis": {"orient": "bottom", "values": [0.2,0.3,0.4,0.6,0.7,0.8,0.9,1.1,1.2,1.3,1.4,1.6,1.7,1.8,1.9,2.1,2.2,2.3,2.4,2.6,2.7,2.8,2.9], "labels": false, "title": null, "tickSize": -2.5}},
             "y": {"field": "v", "type": "quantitative", "scale": {"type": "log", "domain": [3e-11, 3.7e-5], "nice": false},
                   "axis": {"orient": "left", "values": [3e-11,4e-11,5e-11,6e-11,7e-11,8e-11,9e-11,2e-10,3e-10,4e-10,5e-10,6e-10,7e-10,8e-10,9e-10,2e-9,3e-9,4e-9,5e-9,6e-9,7e-9,8e-9,9e-9,2e-8,3e-8,4e-8,5e-8,6e-8,7e-8,8e-8,9e-8,2e-7,3e-7,4e-7,5e-7,6e-7,7e-7,8e-7,9e-7,2e-6,3e-6,4e-6,5e-6,6e-6,7e-6,8e-6,9e-6,2e-5,3e-5], "labels": false, "title": null, "tickSize": -2.5}},
             "color": {"field": "md", "type": "nominal", "scale": {"domain": ["Scaled from p+p (ρ → π⁺π⁻)","Scaled from e⁺+e⁻ (ρ → π⁺π⁻)"], "range": ["#0000ff","#33cc33"]},
                       "legend": {"orient": "none", "legendX": 15, "legendY": 107, "title": null, "labelFontSize": 7.5, "symbolType": "stroke", "symbolSize": 400, "symbolStrokeWidth": 1.2, "rowPadding": -10, "labelOffset": 9, "labelLimit": 300}},
             "strokeDash": {"field": "md", "type": "nominal", "scale": {"domain": ["Scaled from p+p (ρ → π⁺π⁻)","Scaled from e⁺+e⁻ (ρ → π⁺π⁻)"], "range": [[4,2,1,2],[4,2,1,2]]},
                       "legend": {"orient": "none", "legendX": 15, "legendY": 107, "title": null, "labelFontSize": 7.5, "symbolType": "stroke", "symbolSize": 400, "symbolStrokeWidth": 1.2, "rowPadding": -10, "labelOffset": 9, "labelLimit": 300}}
           }},
          {"data": {"name": "b_data"},
           "layer": [
             {"transform": [{"filter": "isValid(datum.b1)"}],
              "mark": {"type": "rect", "clip": true, "filled": false, "strokeWidth": 0.8, "opacity": 0.8},
              "encoding": {"x": {"field": "bx1", "type": "quantitative", "axis": null}, "x2": {"field": "bx2"}, "y": {"field": "b1", "type": "quantitative", "axis": null}, "y2": {"field": "b2"},
                           "color": {"field": "s", "type": "nominal", "scale": {"domain": ["STAR Au+Au 54.4 GeV (0-80%)","STAR Au+Au 27 GeV (0-80%)","NA60 In+In 17.3 GeV (dNch/dη > 30)"], "range": ["#ff0000","#000000","#ff00ff"]}}}},
             {"mark": {"type": "rule", "clip": true, "strokeWidth": 0.8},
              "encoding": {"x": {"field": "m", "type": "quantitative", "axis": null}, "y": {"field": "lo", "type": "quantitative", "axis": null}, "y2": {"field": "hi"},
                           "color": {"field": "s", "type": "nominal"}}},
             {"transform": [{"filter": "isValid(datum.x1)"}],
              "mark": {"type": "rule", "clip": true, "strokeWidth": 0.8},
              "encoding": {"x": {"field": "x1", "type": "quantitative", "axis": null}, "x2": {"field": "x2"}, "y": {"field": "v", "type": "quantitative", "axis": null},
                           "color": {"field": "s", "type": "nominal"}}},
             {"mark": {"type": "point", "clip": true, "filled": true, "opacity": 1, "size": 22},
              "encoding": {"x": {"field": "m", "type": "quantitative", "axis": null}, "y": {"field": "v", "type": "quantitative", "axis": null},
                           "color": {"field": "s", "type": "nominal", "legend": {"orient": "none", "legendX": 24, "legendY": 0, "title": null, "labelFontSize": 10, "symbolSize": 30, "rowPadding": 2, "labelOffset": 10, "labelLimit": 300}},
                           "shape": {"field": "s", "type": "nominal", "scale": {"domain": ["STAR Au+Au 54.4 GeV (0-80%)","STAR Au+Au 27 GeV (0-80%)","NA60 In+In 17.3 GeV (dNch/dη > 30)"], "range": ["square","circle","triangle-down"]},
                                     "legend": {"orient": "none", "legendX": 24, "legendY": 0, "title": null, "labelFontSize": 10, "symbolSize": 30, "rowPadding": 2, "labelOffset": 10, "labelLimit": 300}}}}
           ]},
          {"data": {"name": "b_fits"},
           "mark": {"type": "line", "clip": true, "strokeWidth": 1.1},
           "encoding": {
             "x": {"field": "m", "type": "quantitative",
                   "axis": {"orient": "bottom", "values": [0.5,1,1.5,2,2.5], "format": "~g", "labelOverlap": false, "tickSize": -5, "labelPadding": 8, "labelFontSize": 9, "title": "Mₗₗ (GeV/c²)", "titleFontSize": 10, "titlePadding": 2}},
             "y": {"field": "v", "type": "quantitative",
                   "axis": {"orient": "left", "values": [1e-10,1e-9,1e-8,1e-7,1e-6,1e-5], "labelExpr": "datum.value > 0.0000005 && datum.value < 0.000005 ? '10⁻⁶' : datum.value > 0.000000005 && datum.value < 0.00000005 ? '10⁻⁸' : datum.value < 0.0000000005 ? '10⁻¹⁰' : ''", "labelOverlap": false, "tickSize": -5, "labelPadding": 7, "labelFontSize": 9, "title": "(d²Nₗₗ/dM/dy)/(dNch/dy) (20 MeV/c²)⁻¹", "titleFontSize": 8.5, "titleAnchor": "end", "titlePadding": 3}},
             "color": {"field": "f", "type": "nominal", "scale": {"domain": ["Tₗₘᵣ fit (54.4 GeV, χ²/ndf = 0.22)","Tₗₘᵣ fit (27 GeV,  χ²/ndf = 0.28)","Tᵢₘᵣ fit (54.4 GeV, χ²/ndf = 2.07)","Tᵢₘᵣ fit (27 GeV,  χ²/ndf = 0.32)"], "range": ["#ff0000","#000000","#ff0000","#000000"]},
                       "legend": {"orient": "none", "legendX": 148, "legendY": 41, "title": null, "labelFontSize": 6.8, "symbolType": "stroke", "symbolSize": 196, "symbolStrokeWidth": 1.1, "rowPadding": -7, "labelOffset": 4, "labelLimit": 300}},
             "strokeDash": {"field": "f", "type": "nominal", "scale": {"domain": ["Tₗₘᵣ fit (54.4 GeV, χ²/ndf = 0.22)","Tₗₘᵣ fit (27 GeV,  χ²/ndf = 0.28)","Tᵢₘᵣ fit (54.4 GeV, χ²/ndf = 2.07)","Tᵢₘᵣ fit (27 GeV,  χ²/ndf = 0.32)"], "range": [[1,0],[1,0],[3,2],[3,2]]},
                       "legend": {"orient": "none", "legendX": 148, "legendY": 41, "title": null, "labelFontSize": 6.8, "symbolType": "stroke", "symbolSize": 196, "symbolStrokeWidth": 1.1, "rowPadding": -7, "labelOffset": 4, "labelLimit": 300}}
           }}
        ]
      }
    ],
    "spacing": 0,
    "bounds": "flush"
  }
]
}
